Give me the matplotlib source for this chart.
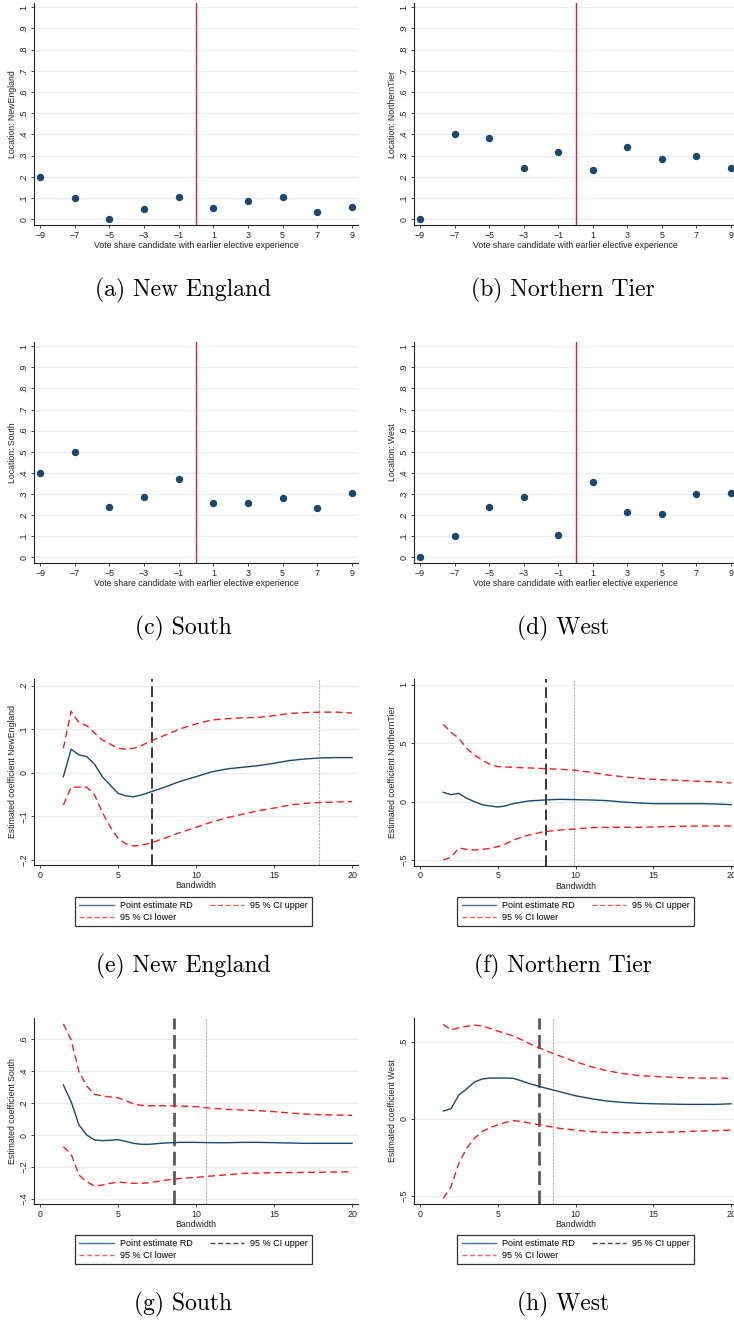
import matplotlib
matplotlib.use("Agg")
import matplotlib.pyplot as plt
from matplotlib.lines import Line2D

plt.rcParams['font.family'] = ['Liberation Sans', 'DejaVu Sans']
plt.rcParams['axes.unicode_minus'] = True

W, H = 734, 1320

# ---------------- data ----------------
vote_bins = [-9, -7, -5, -3, -1, 1, 3, 5, 7, 9]

share_newengland = [0.20, 0.10, 0.00, 0.047, 0.105, 0.051, 0.085, 0.103, 0.033, 0.060]
share_northerntier = [0.00, 0.40, 0.383, 0.24, 0.317, 0.232, 0.343, 0.284, 0.30, 0.243]
share_south = [0.40, 0.50, 0.24, 0.288, 0.372, 0.258, 0.258, 0.283, 0.235, 0.305]
share_west = [0.00, 0.10, 0.238, 0.285, 0.106, 0.357, 0.213, 0.205, 0.30, 0.303]

bandwidth = [1.5, 2, 2.5, 3, 3.5, 4, 4.5, 5, 5.5, 6, 6.5, 7, 8, 9, 10,
             11, 12, 13, 14, 15, 16, 17, 18, 19, 20]

ne_est = [-0.009, 0.054, 0.041, 0.037, 0.0195, -0.009, -0.028, -0.047, -0.053, -0.055,
          -0.051, -0.045, -0.033, -0.0195, -0.009, 0.002, 0.009, 0.0126, 0.0164, 0.0218,
          0.028, 0.0317, 0.034, 0.0348, 0.0348]
ne_upper = [0.056, 0.141, 0.115, 0.108, 0.091, 0.075, 0.066, 0.056, 0.054, 0.056,
            0.062, 0.0715, 0.086, 0.101, 0.112, 0.121, 0.124, 0.126, 0.127, 0.131,
            0.136, 0.138, 0.139, 0.139, 0.137]
ne_lower = [-0.074, -0.033, -0.033, -0.033, -0.051, -0.091, -0.124, -0.150, -0.163, -0.168,
            -0.166, -0.162, -0.150, -0.137, -0.125, -0.113, -0.103, -0.095, -0.087, -0.081,
            -0.074, -0.070, -0.068, -0.067, -0.066]

nt_est = [0.080, 0.060, 0.071, 0.029, 0.0, -0.026, -0.037, -0.046, -0.037, -0.017,
          -0.005, 0.006, 0.014, 0.020, 0.017, 0.014, 0.009, -0.003, -0.011, -0.017,
          -0.017, -0.017, -0.017, -0.020, -0.026]
nt_upper = [0.663, 0.594, 0.543, 0.457, 0.400, 0.357, 0.320, 0.300, 0.297, 0.294,
            0.291, 0.289, 0.283, 0.277, 0.269, 0.251, 0.229, 0.214, 0.200, 0.191,
            0.186, 0.180, 0.174, 0.169, 0.160]
nt_lower = [-0.500, -0.477, -0.397, -0.409, -0.414, -0.409, -0.400, -0.386, -0.363, -0.329,
            -0.306, -0.286, -0.257, -0.243, -0.234, -0.223, -0.220, -0.220, -0.220, -0.217,
            -0.214, -0.211, -0.209, -0.209, -0.209]

so_est = [0.3125, 0.208, 0.0625, 0.0, -0.031, -0.035, -0.033, -0.029, -0.040, -0.052,
          -0.058, -0.058, -0.050, -0.046, -0.046, -0.048, -0.048, -0.046, -0.046, -0.048,
          -0.050, -0.052, -0.052, -0.052, -0.052]
so_upper = [0.694, 0.594, 0.396, 0.306, 0.254, 0.244, 0.2375, 0.233, 0.215, 0.194,
            0.185, 0.183, 0.183, 0.181, 0.177, 0.167, 0.160, 0.156, 0.152, 0.146,
            0.1375, 0.131, 0.127, 0.125, 0.123]
so_lower = [-0.073, -0.119, -0.250, -0.292, -0.319, -0.3125, -0.302, -0.294, -0.298, -0.302,
            -0.302, -0.298, -0.283, -0.271, -0.265, -0.256, -0.248, -0.240, -0.2375, -0.235,
            -0.235, -0.233, -0.233, -0.231, -0.229]

we_est = [0.050, 0.065, 0.154, 0.193, 0.238, 0.258, 0.264, 0.264, 0.264, 0.262,
          0.247, 0.229, 0.201, 0.175, 0.149, 0.130, 0.115, 0.106, 0.100, 0.097,
          0.095, 0.093, 0.093, 0.093, 0.097]
we_upper = [0.613, 0.576, 0.591, 0.600, 0.608, 0.602, 0.587, 0.569, 0.554, 0.537,
            0.515, 0.489, 0.446, 0.407, 0.370, 0.338, 0.312, 0.294, 0.281, 0.275,
            0.270, 0.266, 0.264, 0.264, 0.262]
we_lower = [-0.517, -0.442, -0.290, -0.193, -0.128, -0.084, -0.058, -0.041, -0.024, -0.013,
            -0.017, -0.028, -0.045, -0.063, -0.074, -0.084, -0.089, -0.091, -0.091, -0.089,
            -0.087, -0.084, -0.080, -0.078, -0.074]

# optimal bandwidths (black dashed) and alternative (grey dotted)
bw_opt = {'ne': 7.16, 'nt': 8.1, 'so': 8.59, 'we': 7.66}
bw_alt = {'ne': 17.9, 'nt': 9.88, 'so': 10.62, 'we': 8.53}

captions = ['(a) New England', '(b) Northern Tier', '(c) South', '(d) West',
            '(e) New England', '(f) Northern Tier', '(g) South', '(h) West']

# ---------------- style ----------------
NAVY = '#1a476f'
RED = '#ff1a1a'
VLINE_RED = '#d8203c'
GRID = '#e6eeef'
TICK_FS = 6.4
LABEL_FS = 6.3

fig = plt.figure(figsize=(W / 100, H / 100), dpi=100)


def add_ax(left, top, right, bottom):
    return fig.add_axes([left / W, 1 - bottom / H, (right - left) / W, (bottom - top) / H])


def style(ax, yticks, ylabels):
    for s in ('top', 'right'):
        ax.spines[s].set_visible(False)
    for s in ('left', 'bottom'):
        ax.spines[s].set_linewidth(0.8)
        ax.spines[s].set_color('#222222')
    ax.set_yticks(yticks)
    ax.set_yticklabels(ylabels, rotation=90, va='center')
    ax.tick_params(axis='both', labelsize=TICK_FS, length=2.5, width=0.6, pad=1.5,
                   colors='#222222')
    for y in yticks:
        ax.axhline(y, color=GRID, lw=0.9, zorder=0)


def fmt(v):
    s = ('%g' % abs(v))
    if s.startswith('0.'):
        s = s[1:]
    return ('\u2212' + s) if v < 0 else s


# ---------------- binned scatter panels ----------------
scatter_sets = [
    (share_newengland, 'Location: NewEngland', 34, 3, 358, 225),
    (share_northerntier, 'Location: NorthernTier', 414, 3, 737, 225),
    (share_south, 'Location: South', 34, 342, 358, 563),
    (share_west, 'Location: West', 414, 342, 737, 563),
]
sticks = [round(0.1 * i, 1) for i in range(11)]
for vals, ylab, l, t, r, b in scatter_sets:
    ax = add_ax(l, t, r, b)
    ax.set_xlim(-9.35, 9.35)
    ax.set_ylim(-0.027, 1.02)
    style(ax, sticks, [fmt(v) for v in sticks])
    ax.set_xticks(vote_bins)
    ax.set_xticklabels([fmt(v) for v in vote_bins])
    ax.axvline(0, color=VLINE_RED, lw=1.0, zorder=2)
    ax.plot(vote_bins, vals, 'o', color=NAVY, ms=4.3, mec=NAVY, zorder=3, clip_on=False)
    ax.set_xlabel('Vote share candidate with earlier elective experience',
                  fontsize=LABEL_FS, labelpad=1, color='#222222')
    ax.set_ylabel(ylab, fontsize=LABEL_FS, labelpad=2, color='#222222')

# ---------------- bandwidth sensitivity panels ----------------
bw_sets = [
    ('ne', ne_est, ne_upper, ne_lower, 'Estimated coefficient NewEngland',
     (34, 679, 358, 865), (-0.2115, 0.215), [-0.2, -0.1, 0, 0.1, 0.2], 'black'),
    ('nt', nt_est, nt_upper, nt_lower, 'Estimated coefficient NorthernTier',
     (414, 679, 737, 865.7), (-0.549, 1.051), [-0.5, 0, 0.5, 1], 'black'),
    ('so', so_est, so_upper, so_lower, 'Estimated coefficient South',
     (34, 1018, 358, 1204), (-0.431, 0.731), [-0.4, -0.2, 0, 0.2, 0.4, 0.6], 'gray'),
    ('we', we_est, we_upper, we_lower, 'Estimated coefficient West',
     (414, 1018, 737, 1204), (-0.554, 0.654), [-0.5, 0, 0.5], 'gray'),
]
legend_boxes = [(75, 896, 312, 927), (454, 896, 697, 927),
                (75, 1234, 312, 1265), (454, 1234, 697, 1265)]

for (key, est, up, lo, ylab, box, ylim, yt, vstyle), lb in zip(bw_sets, legend_boxes):
    ax = add_ax(*box)
    ax.set_xlim(-0.38, 20.38)
    ax.set_ylim(*ylim)
    style(ax, yt, [fmt(v) for v in yt])
    ax.set_xticks([0, 5, 10, 15, 20])
    ax.set_xticklabels(['0', '5', '10', '15', '20'])
    if vstyle == 'black':
        ax.axvline(bw_opt[key], color='black', lw=1.1, ls=(0, (7, 3)), zorder=2)
    else:
        ax.axvline(bw_opt[key], color='#5a5a5a', lw=2.0, ls=(0, (5, 2)), zorder=2)
    ax.axvline(bw_alt[key], color='#b4b4b4', lw=0.8, ls=(0, (2, 1)), zorder=2)
    h_est, = ax.plot(bandwidth, est, color=NAVY, lw=1.0, zorder=3)
    h_up, = ax.plot(bandwidth, up, color=RED, lw=1.0, ls=(0, (5, 3)), zorder=3)
    h_lo, = ax.plot(bandwidth, lo, color=RED, lw=1.0, ls=(0, (5, 3)), zorder=3)
    ax.set_xlabel('Bandwidth', fontsize=LABEL_FS, labelpad=1, color='#222222')
    ax.set_ylabel(ylab, fontsize=LABEL_FS, labelpad=2, color='#222222')

    if vstyle == 'black':
        up_handle = Line2D([], [], color='#ff5a5a', lw=1.0, ls=(0, (3.5, 2)))
    else:
        up_handle = Line2D([], [], color='#444444', lw=1.0, ls=(0, (3.5, 2)))
    lo_handle = Line2D([], [], color='#ff5a5a', lw=1.0, ls=(0, (3.5, 2)))
    est_handle = Line2D([], [], color='#4a7296', lw=1.0)
    x0, y0, x1, y1 = lb
    leg = fig.legend([est_handle, lo_handle, up_handle],
                     ['Point estimate RD', '95 % CI lower', '95 % CI upper'],
                     ncol=2, loc='center',
                     bbox_to_anchor=((x0 + x1) / 2 / W, 1 - (y0 + y1) / 2 / H),
                     fontsize=6.5, frameon=True, fancybox=False, handlelength=3.8,
                     handletextpad=0.65, columnspacing=1.9, labelspacing=0.3,
                     borderpad=0.45, borderaxespad=0)
    leg.get_frame().set_edgecolor('black')
    leg.get_frame().set_linewidth(0.9)

# ---------------- captions ----------------
cap_pos = [(183, 290), (563, 290), (183, 628), (563, 628),
           (183, 966), (563, 966), (183, 1304), (563, 1304)]
for txt, (cx, cy) in zip(captions, cap_pos):
    fig.text(cx / W, 1 - cy / H, txt, ha='center', va='center', fontsize=17,
             family=['cmr10', 'DejaVu Serif'])

fig.savefig('out.png', dpi=100)
